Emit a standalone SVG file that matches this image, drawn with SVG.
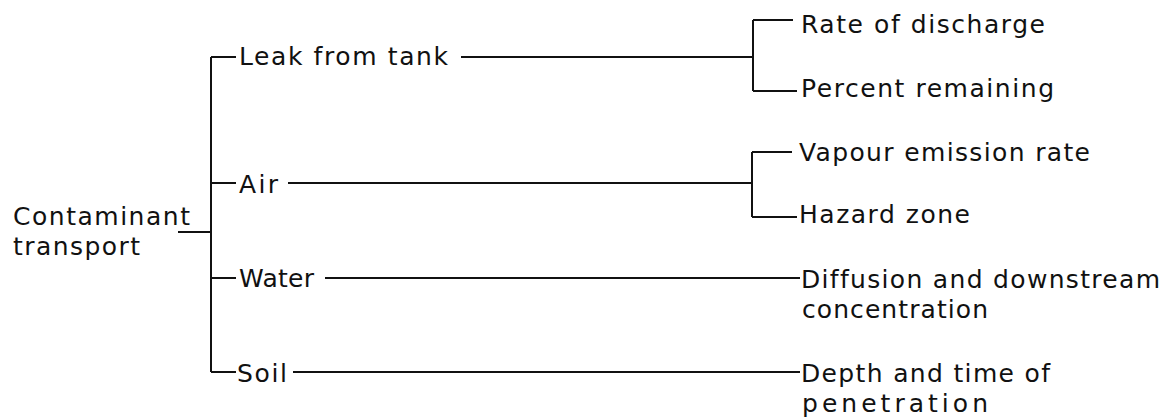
<svg xmlns="http://www.w3.org/2000/svg" width="1162" height="419" viewBox="0 0 1162 419">
<style>
text{font-family:"DejaVu Sans","Liberation Sans",sans-serif;font-size:25px;fill:#111;font-variant-ligatures:none;}
.c{stroke:#111;stroke-width:2;fill:none;}
</style>
<rect width="1162" height="419" fill="#fff"/>
<g id="connectors">
<path class="c" d="M178 232H211M211 57V372M211 57H236M211 183H236M211 278H236M211 372H236"/>
<path class="c" d="M461 57H753M753 20V91M753 20H793M753 91H797"/>
<path class="c" d="M288 183H752M752 152V217M752 152H792M752 217H797"/>
<path class="c" d="M325 278H800"/>
<path class="c" d="M293 372H800"/>
</g>
<g id="root"><text x="13" y="225" textLength="177" lengthAdjust="spacing">Contaminant</text><text x="13" y="255" textLength="127" lengthAdjust="spacing">transport</text></g>
<g id="leak"><text x="239" y="65" textLength="209" lengthAdjust="spacing">Leak from tank</text></g>
<g id="air"><text x="239" y="193" textLength="39" lengthAdjust="spacing">Air</text></g>
<g id="water"><text x="239" y="287" textLength="75" lengthAdjust="spacing">Water</text></g>
<g id="soil"><text x="237" y="382" textLength="50" lengthAdjust="spacing">Soil</text></g>
<g id="rate"><text x="801" y="33" textLength="244" lengthAdjust="spacing">Rate of discharge</text></g>
<g id="percent"><text x="801" y="97" textLength="253" lengthAdjust="spacing">Percent remaining</text></g>
<g id="vapour"><text x="799" y="161" textLength="291" lengthAdjust="spacing">Vapour emission rate</text></g>
<g id="hazard"><text x="799" y="223" textLength="171" lengthAdjust="spacing">Hazard zone</text></g>
<g id="diffusion"><text x="801" y="288" textLength="359" lengthAdjust="spacing">Diffusion and downstream</text><text x="802" y="318" textLength="186" lengthAdjust="spacing">concentration</text></g>
<g id="depth"><text x="801" y="382" textLength="249" lengthAdjust="spacing">Depth and time of</text><text x="802" y="412" textLength="186" lengthAdjust="spacing">penetration</text></g>
</svg>
